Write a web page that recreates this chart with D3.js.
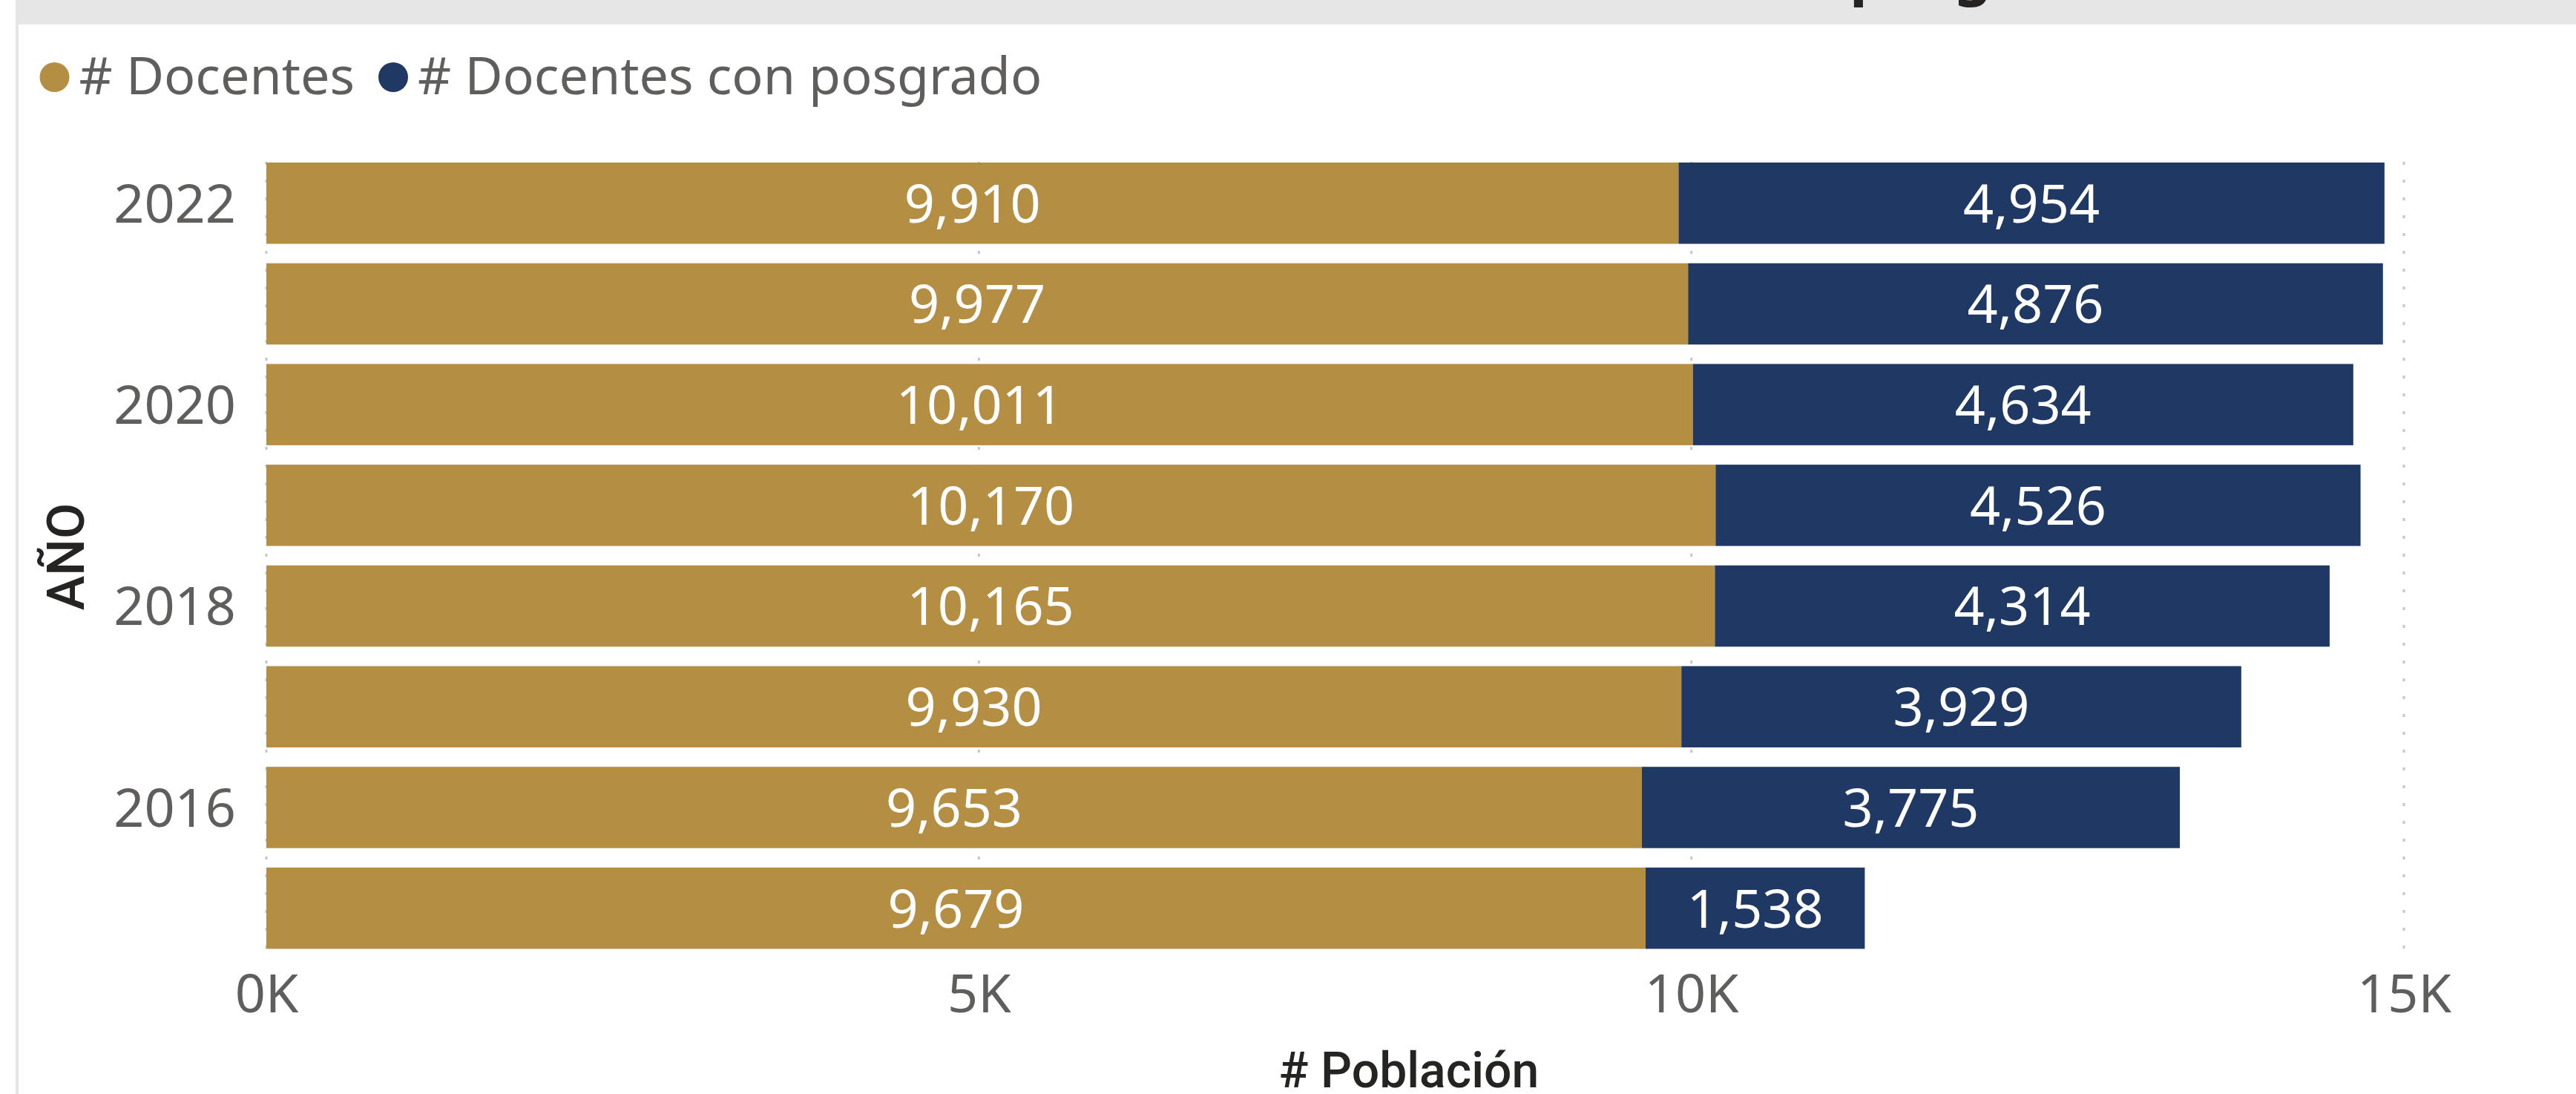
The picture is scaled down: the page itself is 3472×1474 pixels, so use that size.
<!DOCTYPE html>
<html>
<head>
<meta charset="utf-8">
<script src="https://cdn.jsdelivr.net/npm/d3@7"></script>
<style>
    body { margin: 0; background: #fff; }
    svg { display: block; font-family: "Noto Sans", "Open Sans", sans-serif; }
</style>
</head>
<body>
<svg width="3472" height="1474"></svg>
<script>
const width = 3472, height = 1474;

// data
const years = ["2022", "2021", "2020", "2019", "2018", "2017", "2016", "2015"];
const docentes = [9910, 9977, 10011, 10170, 10165, 9930, 9653, 9679];
const posgrado = [4954, 4876, 4634, 4526, 4314, 3929, 3775, 1538];
const xTicks = [0, 5000, 10000, 15000];
const yTickYears = ["2022", "2020", "2018", "2016"];
const seriesNames = ["# Docentes", "# Docentes con posgrado"];
const colors = ["#B38E43", "#1F3864"];

const svg = d3.select("svg");

// page frame: grey header strip and left rule
svg.append("rect").attr("x", 21).attr("y", 0).attr("width", width - 21).attr("height", 33).attr("fill", "#e6e6e6");
svg.append("rect").attr("x", 21).attr("y", 0).attr("width", 4).attr("height", height).attr("fill", "#e6e6e6");

// title, mostly cut off by the top edge (only descenders show)
const title = svg.append("text")
    .attr("y", -9)
    .attr("font-size", 80)
    .attr("font-weight", "bold")
    .attr("fill", "#252423")
    .text("Número de Docentes vs Docentes con posgrado");
const pIdx = title.text().indexOf("posgrado");
const pOffset = title.node().getSubStringLength(0, pIdx);
title.attr("x", 2493 - pOffset);

const x = d3.scaleLinear().domain([0, 15000]).range([359, 3240]);
const y = d3.scaleBand().domain(years).range([205.9, 1291.5]).paddingInner(0.193).paddingOuter(0.0965);

// gridlines
svg.append("g")
    .selectAll("line")
    .data(xTicks)
    .enter().append("line")
    .attr("x1", d => x(d)).attr("x2", d => x(d))
    .attr("y1", 218).attr("y2", 1280)
    .attr("stroke", "#c8c6c4")
    .attr("stroke-width", 3)
    .attr("stroke-dasharray", "4,20");

const rows = years.map((yr, i) => ({ year: yr, a: docentes[i], b: posgrado[i] }));

const bars = svg.append("g");
bars.selectAll(".docentes")
    .data(rows)
    .enter().append("rect")
    .attr("class", "docentes")
    .attr("x", x(0))
    .attr("y", d => y(d.year))
    .attr("width", d => x(d.a) - x(0))
    .attr("height", y.bandwidth())
    .attr("fill", colors[0]);

bars.selectAll(".posgrado")
    .data(rows)
    .enter().append("rect")
    .attr("class", "posgrado")
    .attr("x", d => x(d.a))
    .attr("y", d => y(d.year))
    .attr("width", d => x(d.a + d.b) - x(d.a))
    .attr("height", y.bandwidth())
    .attr("fill", colors[1]);

// data labels
const fmt = d3.format(",");
const labels = svg.append("g")
    .attr("font-size", 72)
    .attr("fill", "#fff")
    .attr("text-anchor", "middle");

labels.selectAll(".la")
    .data(rows)
    .enter().append("text")
    .attr("x", d => (x(0) + x(d.a)) / 2)
    .attr("y", d => y(d.year) + y.bandwidth() / 2)
    .attr("dy", "0.36em")
    .text(d => fmt(d.a));

labels.selectAll(".lb")
    .data(rows)
    .enter().append("text")
    .attr("x", d => (x(d.a) + x(d.a + d.b)) / 2)
    .attr("y", d => y(d.year) + y.bandwidth() / 2)
    .attr("dy", "0.36em")
    .text(d => fmt(d.b));

// axes
const xAxis = svg.append("g")
    .attr("transform", "translate(0,1290)")
    .call(d3.axisBottom(x).tickValues(xTicks).tickFormat(d => (d / 1000) + "K").tickSize(0).tickPadding(0));
xAxis.select(".domain").remove();
xAxis.selectAll("text")
    .attr("font-size", 72)
    .attr("font-family", "Noto Sans")
    .attr("fill", "#605E5C")
    .attr("y", 74)
    .attr("dy", 0);

const yAxis = svg.append("g")
    .attr("transform", "translate(318,0)")
    .call(d3.axisLeft(y).tickValues(yTickYears).tickSize(0).tickPadding(0));
yAxis.select(".domain").remove();
yAxis.selectAll("text")
    .attr("font-size", 72)
    .attr("font-family", "Noto Sans")
    .attr("fill", "#605E5C")
    .attr("dy", "0.36em");

// axis titles (DIN-like, medium weight)
svg.append("text")
    .attr("x", 1899)
    .attr("y", 1465)
    .attr("text-anchor", "middle")
    .attr("font-family", "Roboto")
    .attr("font-weight", 500)
    .attr("font-size", 66)
    .attr("fill", "#252423")
    .text("# Población");

svg.append("text")
    .attr("transform", "translate(113,750) rotate(-90)")
    .attr("text-anchor", "middle")
    .attr("font-family", "Roboto")
    .attr("font-weight", 500)
    .attr("font-size", 70)
    .attr("fill", "#252423")
    .text("AÑO");

// legend
const legend = svg.append("g");
const legendX = [73.5, 530];
legend.selectAll("circle")
    .data(seriesNames)
    .enter().append("circle")
    .attr("cx", (d, i) => legendX[i])
    .attr("cy", 104)
    .attr("r", 20)
    .attr("fill", (d, i) => colors[i]);

legend.selectAll("text")
    .data(seriesNames)
    .enter().append("text")
    .attr("x", (d, i) => legendX[i] + 33)
    .attr("y", 127)
    .attr("font-size", 70)
    .attr("fill", "#605E5C")
    .text(d => d);
</script>
</body>
</html>
